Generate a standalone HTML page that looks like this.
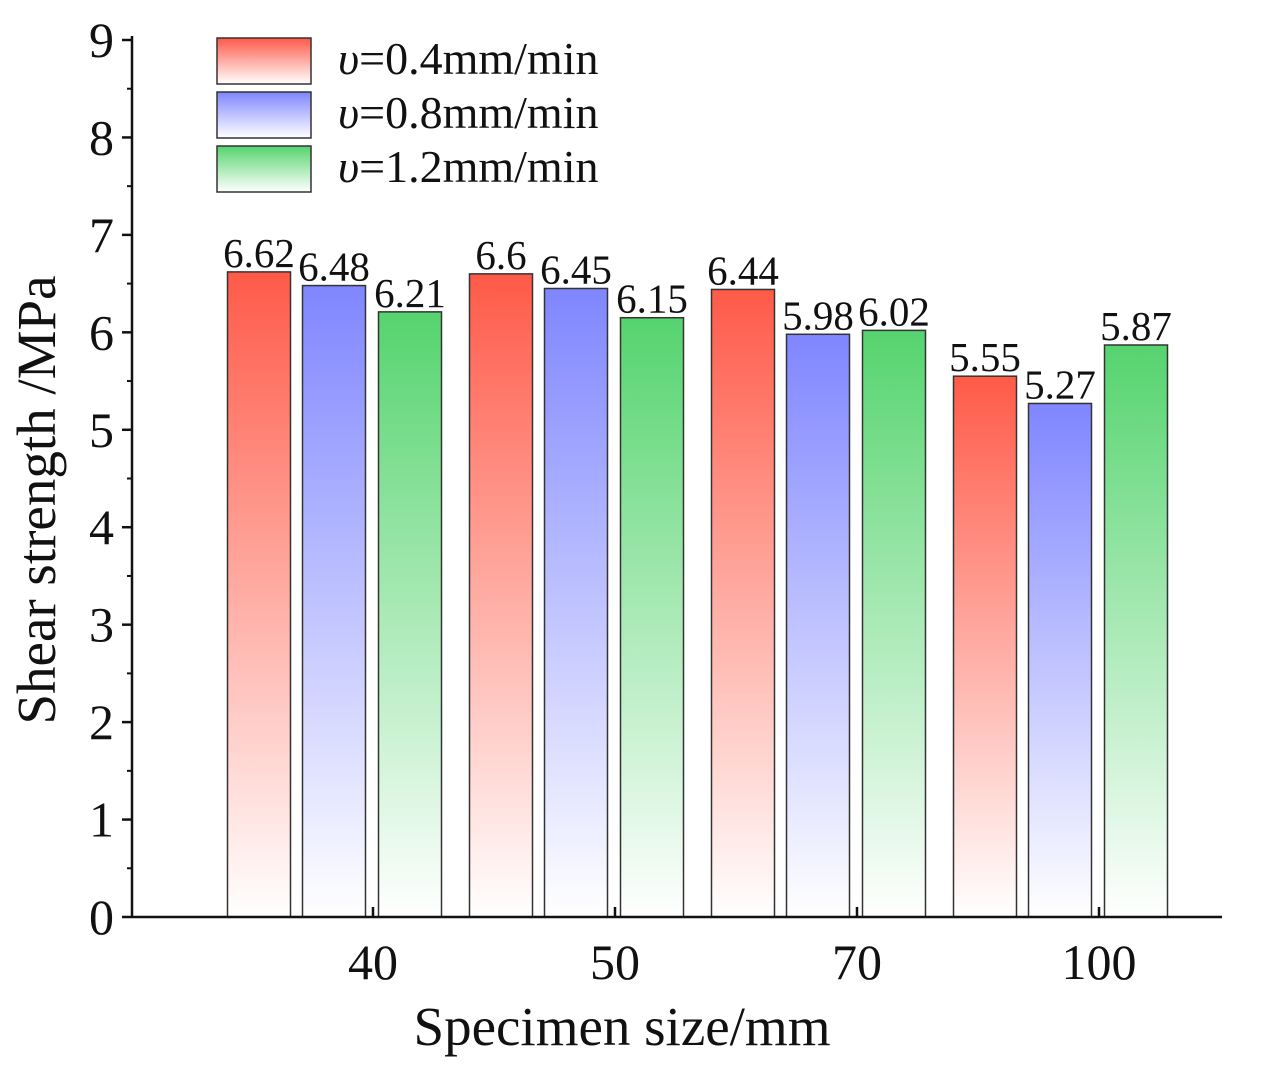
<!DOCTYPE html>
<html><head><meta charset="utf-8"><style>
body{margin:0;background:#fff;}
svg text{font-family:"Liberation Serif",serif;fill:#111;}
</style></head><body>
<svg id="chart" width="1265" height="1080" xmlns="http://www.w3.org/2000/svg">
<defs>
<linearGradient id="gr" x1="0" y1="0" x2="0" y2="1"><stop offset="0" stop-color="#ff5a48"/><stop offset="1" stop-color="#fff"/></linearGradient>
<linearGradient id="gb" x1="0" y1="0" x2="0" y2="1"><stop offset="0" stop-color="#7f86ff"/><stop offset="1" stop-color="#fff"/></linearGradient>
<linearGradient id="gg" x1="0" y1="0" x2="0" y2="1"><stop offset="0" stop-color="#55d46e"/><stop offset="1" stop-color="#fff"/></linearGradient>
</defs>
<g id="plot"></g>
</svg>
<script>
const categories=["40","50","70","100"];
const v04=[6.62,6.6,6.44,5.55];
const v08=[6.48,6.45,5.98,5.27];
const v12=[6.21,6.15,6.02,5.87];
const yTicks=[0,1,2,3,4,5,6,7,8,9];
const seriesNames=["0.4mm/min","0.8mm/min","1.2mm/min"];

const NS="http://www.w3.org/2000/svg";
const g=document.getElementById('plot');
const x0=132,x1=1222,yBase=917,yTop=40;
const ys=v=>yBase-(v/9)*(yBase-yTop);
const xc=i=>373+i*242;
function mk(t,a,txt){const e=document.createElementNS(NS,t);for(const k in a)e.setAttribute(k,a[k]);if(txt!==undefined)e.textContent=txt;g.appendChild(e);return e;}
const series=[v04,v08,v12],grads=["gr","gb","gg"],offs=[-114,-39,37],bw=63;
series.forEach((s,si)=>s.forEach((v,i)=>{
  const cx=xc(i)+offs[si];
  const r=mk('rect',{x:cx-bw/2,y:ys(v),width:bw,height:yBase-ys(v),fill:`url(#${grads[si]})`,stroke:'#333','stroke-width':1.5});
  
  
  const t=mk('text',{x:cx,y:ys(v)-5,'text-anchor':'middle','font-size':41},String(v));
  
  
}));
// axes
let ax=mk('line',{x1:x0,y1:yTop-4,x2:x0,y2:yBase,stroke:'#111','stroke-width':2.5});


ax=mk('line',{x1:x0,y1:yBase,x2:x1,y2:yBase,stroke:'#111','stroke-width':2.5});


yTicks.forEach(v=>{
  mk('line',{x1:x0-10,y1:ys(v),x2:x0,y2:ys(v),stroke:'#111','stroke-width':2.5});
  if(v<9)mk('line',{x1:x0-5,y1:ys(v+0.5),x2:x0,y2:ys(v+0.5),stroke:'#111','stroke-width':2});
  const t=mk('text',{x:x0-18,y:ys(v)+17,'text-anchor':'end','font-size':50},String(v));
  
  
});
categories.forEach((c,i)=>{
  mk('line',{x1:xc(i),y1:yBase,x2:xc(i),y2:yBase-10,stroke:'#111','stroke-width':2.5});
  const t=mk('text',{x:xc(i),y:yBase+62,'text-anchor':'middle','font-size':50},c);
  
  
});
let t=mk('text',{x:622,y:1045,'text-anchor':'middle','font-size':55},'Specimen size/mm');


t=mk('text',{x:0,y:0,'text-anchor':'middle','font-size':55,transform:'translate(55,500) rotate(-90)'},'Shear strength /MPa');


seriesNames.forEach((n,i)=>{
  const y=38+i*54;
  const r=mk('rect',{x:217,y:y,width:94,height:46,fill:`url(#${grads[i]})`,stroke:'#333','stroke-width':1.5});
  
  
  const tx=mk('text',{x:338,y:y+36,'font-size':46});
  
  
  const s1=document.createElementNS(NS,'tspan');s1.setAttribute('font-style','italic');s1.textContent='υ';tx.appendChild(s1);
  const s2=document.createElementNS(NS,'tspan');s2.textContent='='+n;tx.appendChild(s2);
});
</script>
</body></html>
